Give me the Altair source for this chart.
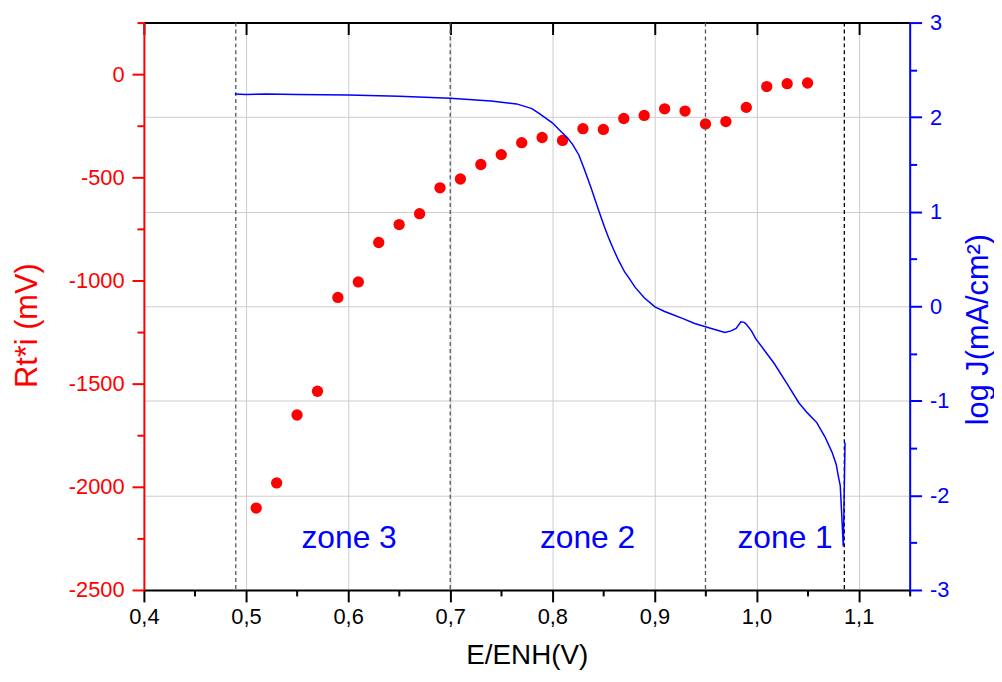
import altair as alt
import pandas as pd

# Red points: Rt*i (mV) vs E
E_pts = [0.51, 0.53, 0.55, 0.57, 0.59, 0.61, 0.63, 0.65, 0.67, 0.69, 0.71, 0.73, 0.75, 0.77,
         0.79, 0.81, 0.83, 0.85, 0.87, 0.89, 0.91, 0.93, 0.95, 0.97, 0.99, 1.01, 1.03, 1.05]
rti_mV = [-2103, -1981, -1652, -1537, -1082, -1007, -816, -729, -676, -551, -508, -438, -390, -332,
          -307, -321, -264, -268, -215, -200, -168, -179, -241, -230, -161, -60, -46, -43]

# Blue curve: log J vs E
E_line = [0.489, 0.50, 0.52, 0.55, 0.60, 0.65, 0.70, 0.74, 0.765, 0.78, 0.787, 0.80, 0.807, 0.815,
          0.820, 0.826, 0.831, 0.838, 0.8456, 0.851, 0.855, 0.860, 0.865, 0.871, 0.875, 0.881, 0.890,
          0.9005, 0.910, 0.917, 0.928, 0.9394, 0.950, 0.959, 0.965, 0.969, 0.975, 0.980, 0.9847, 0.988,
          0.990, 0.995, 0.999, 1.008, 1.017, 1.030, 1.0414, 1.050, 1.059, 1.067, 1.074, 1.078, 1.080,
          1.082, 1.085, 1.0867]
logJ = [2.245, 2.24, 2.245, 2.24, 2.235, 2.22, 2.20, 2.17, 2.14, 2.09, 2.04, 1.94, 1.864, 1.78,
        1.71, 1.60, 1.46, 1.25, 1.007, 0.84, 0.727, 0.60, 0.482, 0.36, 0.30, 0.202, 0.09,
        -0.007, -0.055, -0.084, -0.13, -0.182, -0.217, -0.245, -0.265, -0.277, -0.26, -0.235, -0.165, -0.17,
        -0.19, -0.26, -0.34, -0.47, -0.60, -0.82, -1.02, -1.13, -1.23, -1.38, -1.545, -1.67, -1.79,
        -1.895, -2.54, -1.44]

zone_labels = ["zone 3", "zone 2", "zone 1"]
zone_x = [0.601, 0.8345, 1.028]
zone_y = [-2.45, -2.45, -2.45]

boundary_E = [0.49, 0.70, 0.95, 1.086]
boundary_color = ["#555555", "#555555", "#555555", "#000000"]

x_ticks = [0.40, 0.45, 0.50, 0.55, 0.60, 0.65, 0.70, 0.75, 0.80, 0.85, 0.90, 0.95, 1.00, 1.05, 1.10, 1.15]
x_major_ticks = [0.4, 0.5, 0.6, 0.7, 0.8, 0.9, 1.0, 1.1]
x_minor_ticks = [0.45, 0.55, 0.65, 0.75, 0.85, 0.95, 1.05, 1.15]
left_ticks = [-2500, -2250, -2000, -1750, -1500, -1250, -1000, -750, -500, -250, 0, 250]
right_ticks = [-3, -2.5, -2, -1.5, -1, -0.5, 0, 0.5, 1, 1.5, 2, 2.5, 3]

df_pts = pd.DataFrame({"E": E_pts, "rti": rti_mV})
df_line = pd.DataFrame({"E": E_line, "logJ": logJ, "i": list(range(len(E_line)))})
df_zone = pd.DataFrame({"E": zone_x, "y": zone_y, "label": zone_labels})
df_rule = pd.DataFrame({"E": boundary_E, "c": boundary_color})

FONT = "Liberation Sans"
x_scale = alt.Scale(domain=[0.4, 1.15], nice=False, zero=False)

x_major = "round(datum.value*100) % 10 == 0"
left_major = "round(datum.value) % 500 == 0"
right_major = "round(datum.value*2) % 2 == 0"

points = alt.Chart(df_pts).mark_circle(size=130, color="#ff0000", opacity=1).encode(
    x=alt.X("E:Q", scale=x_scale,
            axis=alt.Axis(values=x_ticks, orient="bottom", title="E/ENH(V)",
                          labelExpr=x_major + " ? replace(format(datum.value, '.1f'), '.', ',') : ''",
                          labelFlush=False, labelOverlap=False,
                          labelFontSize=22, labelColor="black", labelPadding=5,
                          titleFontSize=28, titleFontWeight="normal", titleColor="black", titlePadding=14,
                          domainColor="black", domainWidth=2, tickColor="black", tickWidth=2,
                          tickSize={"condition": {"test": x_major, "value": 12}, "value": 6},
                          grid=True, gridColor="#cccccc", gridWidth=1,
                          gridOpacity={"condition": {"test": x_major + " && datum.value > 0.41", "value": 1}, "value": 0})),
    y=alt.Y("rti:Q", scale=alt.Scale(domain=[-2500, 250], nice=False, zero=False),
            axis=alt.Axis(values=left_ticks, orient="left", title="Rt*i (mV)",
                          labelExpr=left_major + " && datum.value < 100 ? '' + datum.value : ''",
                          labelOverlap=False, labelFlush=False,
                          labelFontSize=22, labelColor="#ff0000", labelPadding=8,
                          titleFontSize=31, titleFontWeight="normal", titleColor="#ff0000", titlePadding=25,
                          titleY=305,
                          domainColor="#ff0000", domainWidth=2, tickColor="#ff0000", tickWidth=2,
                          tickSize={"condition": {"test": left_major, "value": 12}, "value": 7},
                          grid=False)),
)

rules = alt.Chart(df_rule).mark_rule(strokeDash=[4, 3], strokeWidth=1.3).encode(
    x=alt.X("E:Q", scale=x_scale,
            axis=alt.Axis(values=x_major_ticks, orient="top", labels=False, title=None,
                          grid=False, domainColor="black", domainWidth=2, tickColor="black", tickWidth=2,
                          tickSize={"expr": "-12"})),
    color=alt.Color("c:N", scale=None),
)

y_right = alt.Y("logJ:Q", scale=alt.Scale(domain=[-3, 3], nice=False, zero=False),
                axis=alt.Axis(values=right_ticks, orient="right", title="log J(mA/cm²)",
                              labelExpr=right_major + " ? '' + datum.value : ''",
                              labelOverlap=False, labelFlush=False,
                              labelFontSize=22, labelColor="#0000ff", labelPadding=8,
                              titleFontSize=31, titleFontWeight="normal", titleColor="#0000ff",
                              titleAngle=270, titleBaseline="top", titlePadding=15,
                              titleY=309,
                              domainColor="#0000ff", domainWidth=2, tickColor="#0000ff", tickWidth=2,
                              tickSize={"condition": {"test": right_major, "value": 12}, "value": 7},
                              grid=True, gridColor="#cccccc", gridWidth=1,
                              gridOpacity={"condition": {"test": right_major + " && abs(datum.value) < 2.9", "value": 1}, "value": 0}))

line = alt.Chart(df_line).mark_line(color="#0000ff", strokeWidth=1.5).encode(
    x=alt.X("E:Q", scale=x_scale, axis=None),
    y=y_right,
    order="i:Q",
)

zones = alt.Chart(df_zone).mark_text(color="#0000ff", fontSize=32, font=FONT, align="center",
                                     baseline="middle").encode(
    x=alt.X("E:Q", scale=x_scale,
            axis=alt.Axis(values=x_minor_ticks, orient="top", labels=False, title=None,
                          grid=False, domain=False, tickColor="black", tickWidth=2,
                          tickSize={"expr": "-7"})),
    y=alt.Y("y:Q"),
    text="label:N",
)

right = alt.layer(line, zones)

chart = alt.layer(points, rules, right).resolve_scale(y="independent").resolve_axis(
    x="independent", y="independent"
).properties(
    width=772, height=572,
    autosize=alt.AutoSizeParams(type="none"),
    padding={"left": 137, "top": 12, "right": 85, "bottom": 80},
).configure_view(stroke=None).configure_axis(
    labelFont=FONT, titleFont=FONT
).configure(background="white")

chart.save("out.html", embed_options={"renderer": "svg", "actions": False})
